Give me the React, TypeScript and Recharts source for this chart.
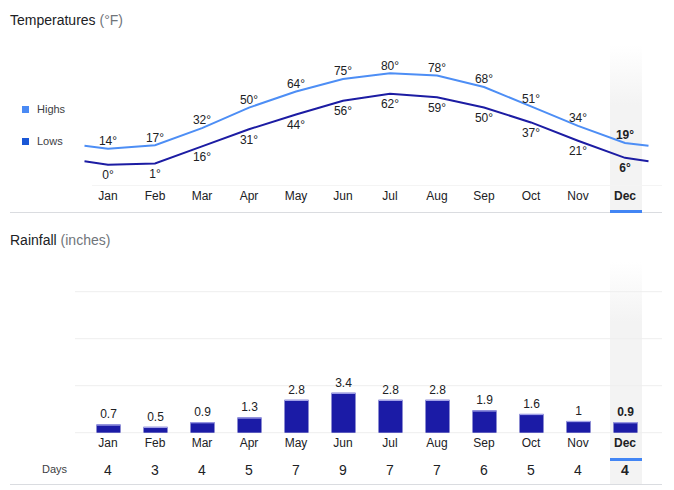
import React from "react";
import {
  LineChart,
  Line,
  BarChart,
  Bar,
  XAxis,
  YAxis,
  CartesianGrid,
  LabelList,
} from "recharts";

const months = ["Jan", "Feb", "Mar", "Apr", "May", "Jun", "Jul", "Aug", "Sep", "Oct", "Nov", "Dec"];
const highs = [14, 17, 32, 50, 64, 75, 80, 78, 68, 51, 34, 19];
const lows = [0, 1, 16, 31, 44, 56, 62, 59, 50, 37, 21, 6];
// where the lines meet the left and right edge of the plot
const edgeHigh = 16.5;
const edgeLow = 3;
const rainfall = [0.7, 0.5, 0.9, 1.3, 2.8, 3.4, 2.8, 2.8, 1.9, 1.6, 1, 0.9];
const rainDays = [4, 3, 4, 5, 7, 9, 7, 7, 6, 5, 4, 4];
const rainTicks = [0, 4, 8, 12];
const selected = "Dec";

const HIGH = "#4d8ef5";
const LOW = "#1c1ca3";
const BAR = "#1b1ba6";
const TEXT = "#202124";
const FONT = 'Arial, "Liberation Sans", sans-serif';

const tempData = [
  { x: -0.5, hi: edgeHigh, lo: edgeLow },
  ...months.map((m, i) => ({ x: i, month: m, hi: highs[i], lo: lows[i] })),
  { x: 11.5, hi: edgeHigh, lo: edgeLow },
];

const rainData = months.map((m, i) => ({ month: m, rain: rainfall[i], days: rainDays[i] }));

const TempTick = ({ x, y, payload }: any) => {
  const m = months[payload.value];
  return (
    <text x={x} y={y + 27.5} textAnchor="middle" fontSize={12} fill={TEXT} fontWeight={m === selected ? 700 : 400}>
      {m}
    </text>
  );
};

const RainTick = ({ x, y, payload, index }: any) => {
  const bold = payload.value === selected ? 700 : 400;
  return (
    <g>
      <text x={x} y={y + 6.5} textAnchor="middle" fontSize={12} fill={TEXT} fontWeight={bold}>
        {payload.value}
      </text>
      <text x={x} y={y + 34.5} textAnchor="middle" fontSize={14} fill={TEXT} fontWeight={bold}>
        {rainDays[index]}
      </text>
    </g>
  );
};

const tempLabel = (dy: number) => (props: any) => {
  const { x, y, value, index } = props;
  if (index === 0 || index === tempData.length - 1) return null;
  const bold = tempData[index].month === selected;
  return (
    <text x={x} y={y + dy} textAnchor="middle" fontSize={12} fill={TEXT} fontWeight={bold ? 700 : 400}>
      {value}°
    </text>
  );
};

const rainLabel = (props: any) => {
  const { x, y, width, value, index } = props;
  const bold = months[index] === selected;
  return (
    <text x={x + width / 2} y={y - 6} textAnchor="middle" fontSize={12} fill={TEXT} fontWeight={bold ? 700 : 400}>
      {value}
    </text>
  );
};

const RainBar = (props: any) => {
  const { x, y, width, height } = props;
  return (
    <g>
      <rect x={x} y={y} width={width} height={height} fill={BAR} />
      <rect x={x} y={y} width={width} height={1.2} fill="#a3a3e8" />
    </g>
  );
};

const abs = (s: React.CSSProperties): React.CSSProperties => ({ position: "absolute", ...s });

export default function App() {
  return (
    <div style={{ position: "absolute", left: 0, top: 0, width: 674, height: 490, background: "#fff", fontFamily: FONT, overflow: "hidden" }}>
      {/* selected column highlights */}
      <div style={abs({ left: 610, top: 45, width: 32, height: 167, background: "linear-gradient(to bottom, rgba(243,243,243,0) 0px, #f3f3f3 60px)" })} />
      <div style={abs({ left: 610, top: 262, width: 32, height: 222, background: "linear-gradient(to bottom, rgba(243,243,243,0) 0px, #f3f3f3 60px)" })} />

      {/* rules */}
      <div style={abs({ left: 92, top: 185, width: 570, height: 1, background: "#f4f4f4" })} />
      <div style={abs({ left: 10, top: 212, width: 652, height: 1, background: "#dadce0" })} />
      <div style={abs({ left: 10, top: 484, width: 652, height: 1, background: "#dadce0" })} />
      <div style={abs({ left: 610, top: 210, width: 32, height: 3, background: "#4285f4" })} />
      <div style={abs({ left: 610, top: 458, width: 32, height: 3, background: "#4285f4" })} />

      {/* titles */}
      <div style={abs({ left: 10, top: 11, fontSize: 14, color: TEXT, lineHeight: "18px", whiteSpace: "nowrap" })}>
        Temperatures <span style={{ color: "#70757a" }}>(°F)</span>
      </div>
      <div style={abs({ left: 10, top: 231, fontSize: 14, color: TEXT, lineHeight: "18px", whiteSpace: "nowrap" })}>
        Rainfall <span style={{ color: "#70757a" }}>(inches)</span>
      </div>

      {/* legend */}
      <div style={abs({ left: 22, top: 106, width: 7, height: 7, background: "#4a8af4" })} />
      <div style={abs({ left: 37, top: 102, fontSize: 11, color: "#3c4043", lineHeight: "14px" })}>Highs</div>
      <div style={abs({ left: 22, top: 138, width: 7, height: 7, background: "#1a57d6" })} />
      <div style={abs({ left: 37, top: 134, fontSize: 11, color: "#3c4043", lineHeight: "14px" })}>Lows</div>

      <div style={abs({ left: 42, top: 462, fontSize: 11, color: "#3c4043", lineHeight: "14px" })}>Days</div>

      <div style={abs({ left: 0, top: 0 })}>
        <LineChart width={674} height={215} data={tempData} margin={{ top: 73.3, right: 25.5, bottom: 20.3, left: 84.5 }}>
          <XAxis
            type="number"
            dataKey="x"
            domain={[-0.5, 11.5]}
            ticks={months.map((_, i) => i)}
            interval={0}
            height={30}
            axisLine={false}
            tickLine={false}
            tick={<TempTick />}
          />
          <YAxis hide domain={[0, 80]} />
          <Line type="linear" dataKey="hi" stroke={HIGH} strokeWidth={2} dot={false} isAnimationActive={false}>
            <LabelList dataKey="hi" content={tempLabel(-3.7)} />
          </Line>
          <Line type="linear" dataKey="lo" stroke={LOW} strokeWidth={2} dot={false} isAnimationActive={false}>
            <LabelList dataKey="lo" content={tempLabel(14.3)} />
          </Line>
        </LineChart>
      </div>

      <div style={abs({ left: 0, top: 250 })}>
        <BarChart width={674} height={240} data={rainData} margin={{ top: 41.7, right: 12, bottom: 17.3, left: 75 }}>
          <CartesianGrid vertical={false} stroke="#eeeeee" />
          <XAxis
            dataKey="month"
            interval={0}
            height={40}
            padding={{ left: 9.5, right: 13.5 }}
            axisLine={false}
            tickLine={false}
            tick={<RainTick />}
          />
          <YAxis hide domain={[0, 12]} ticks={rainTicks} />
          <Bar dataKey="rain" barSize={24} shape={<RainBar />} isAnimationActive={false}>
            <LabelList dataKey="rain" content={rainLabel} />
          </Bar>
        </BarChart>
      </div>
    </div>
  );
}
